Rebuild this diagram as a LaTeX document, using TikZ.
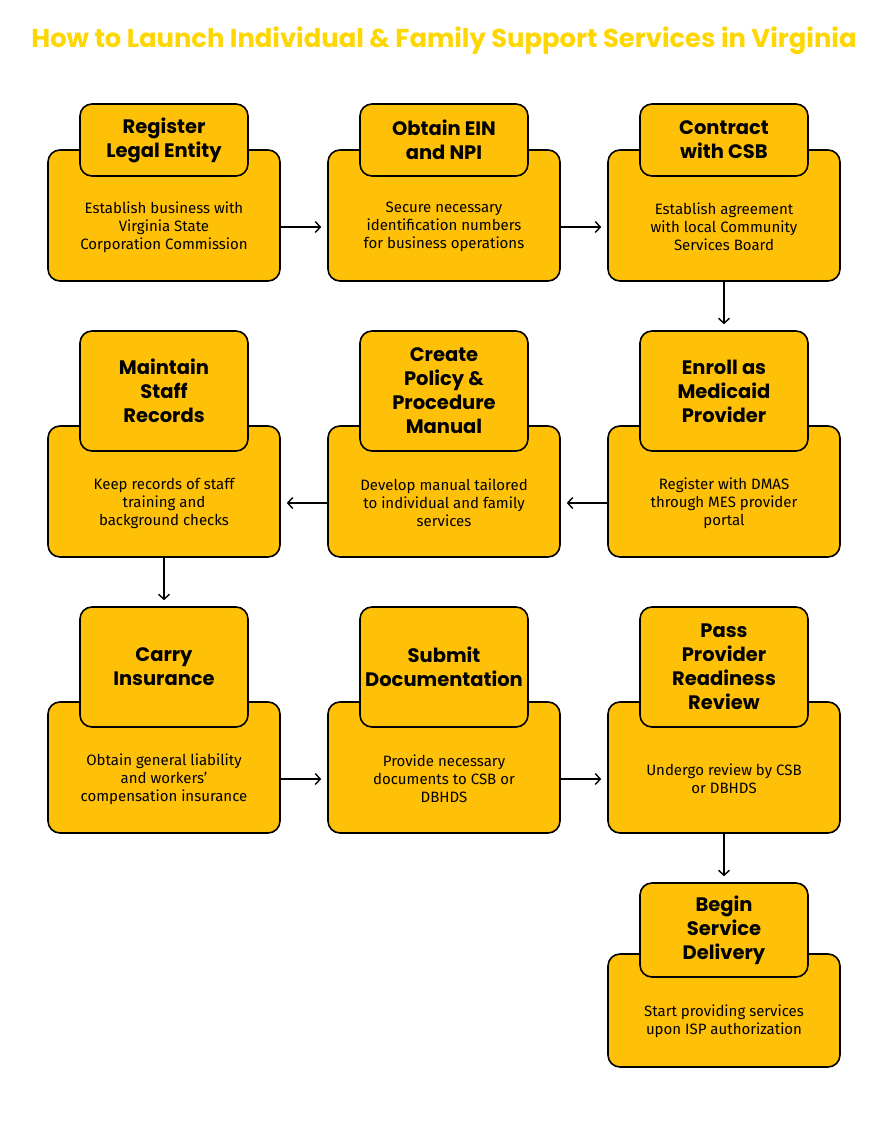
\documentclass[tikz,border=0pt]{standalone}
\usepackage{fontspec}
\setmainfont{Fira Sans}
\newfontfamily\headfont{Poppins}
\usetikzlibrary{calc,arrows.meta}

\definecolor{cardfill}{RGB}{255,193,7}
\definecolor{headline}{RGB}{255,215,0}

\tikzset{
    card/.style={draw=black, line width=1.6pt, fill=cardfill, rounded corners=12pt,
        minimum width=232pt, inner sep=0pt},
    tab/.style={card, minimum width=168pt, align=center,
        font=\headfont\bfseries\fontsize{19.5}{24}\selectfont},
    bodytext/.style={align=center, font=\fontsize{15}{18}\selectfont},
    flow/.style={line width=1.4pt, -{Straight Barb[length=5pt,width=11pt]}, shorten >=6pt}
}

\begin{document}
\begin{tikzpicture}[x=1pt,y=-1pt]
    \useasboundingbox [fill=white] (0,0) rectangle (888,1123);

    \node (title) at (444,41) [text=headline, font=\headfont\bfseries\fontsize{25.8}{30}\selectfont]
        {How to Launch Individual \& Family Support Services in Virginia};

    % row 1
    \node (c1) at (164,215.5) [card, minimum height=131pt] {};
    \node (h1) at (164,140) [tab, minimum height=72pt] {Register\\Legal Entity};
    \node (t1) at (164,227) [bodytext] {Establish business with\\Virginia State\\Corporation Commission};

    \node (c2) at (444,215.5) [card, minimum height=131pt] {};
    \node (h2) at (444,140) [tab, minimum height=72pt] {Obtain EIN\\and NPI};
    \node (t2) at (444,227) [bodytext] {Secure necessary\\identification numbers\\for business operations};

    \node (c3) at (724,215.5) [card, minimum height=131pt] {};
    \node (h3) at (724,140) [tab, minimum height=72pt] {Contract\\with CSB};
    \node (t3) at (724,227) [bodytext] {Establish agreement\\with local Community\\Services Board};

    % row 2
    \node (c4) at (724,491.5) [card, minimum height=131pt] {};
    \node (h4) at (724,391) [tab, minimum height=120pt] {Enroll as\\Medicaid\\Provider};
    \node (t4) at (724,503) [bodytext] {Register with DMAS\\through MES provider\\portal};

    \node (c5) at (444,491.5) [card, minimum height=131pt] {};
    \node (h5) at (444,391) [tab, minimum height=120pt] {Create\\Policy \&\\Procedure\\Manual};
    \node (t5) at (444,503) [bodytext] {Develop manual tailored\\to individual and family\\services};

    \node (c6) at (164,491.5) [card, minimum height=131pt] {};
    \node (h6) at (164,391) [tab, minimum height=120pt] {Maintain\\Staff\\Records};
    \node (t6) at (164,503) [bodytext] {Keep records of staff\\training and\\background checks};

    % row 3
    \node (c7) at (164,767.5) [card, minimum height=131pt] {};
    \node (h7) at (164,667) [tab, minimum height=120pt] {Carry\\Insurance};
    \node (t7) at (164,779) [bodytext] {Obtain general liability\\and workers'\\compensation insurance};

    \node (c8) at (444,767.5) [card, minimum height=131pt] {};
    \node (h8) at (444,667) [tab, minimum height=120pt] {Submit\\Documentation};
    \node (t8) at (444,779) [bodytext] {Provide necessary\\documents to CSB or\\DBHDS};

    \node (c9) at (724,767.5) [card, minimum height=131pt] {};
    \node (h9) at (724,667) [tab, minimum height=120pt] {Pass\\Provider\\Readiness\\Review};
    \node (t9) at (724,779) [bodytext] {Undergo review by CSB\\or DBHDS};

    % row 4
    \node (c10) at (724,1010.5) [card, minimum height=113pt] {};
    \node (h10) at (724,930) [tab, minimum height=94pt] {Begin\\Service\\Delivery};
    \node (t10) at (724,1021) [bodytext] {Start providing services\\upon ISP authorization};

    % arrows
    \foreach \a/\b in {1/2, 2/3, 7/8, 8/9}
        \draw [flow] (c\a.east |- t\a) -- (c\b.west |- t\a);
    \foreach \a/\b in {4/5, 5/6}
        \draw [flow] (c\a.west |- t\a) -- (c\b.east |- t\a);
    \foreach \a/\b in {3/4, 6/7, 9/10}
        \draw [flow] (c\a.south) -- (h\b.north);
\end{tikzpicture}
\end{document}
